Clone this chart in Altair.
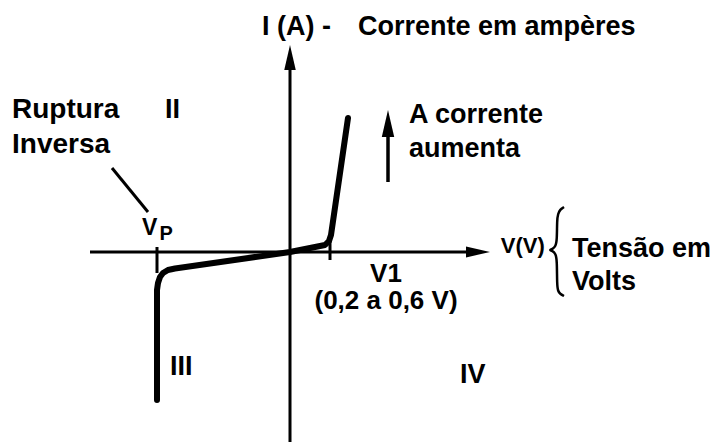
import altair as alt
import pandas as pd

# Diagram units: 1 unit = 40 px on both axes, origin where the V and I axes cross.
X_DOMAIN = [-7.25, 10.675]
Y_DOMAIN = [-4.75, 6.3]

# Diode characteristic curve (V, I), breakdown at Vp, knee at V1
curve_v = [-3.325, -3.325, -3.3, -3.25, -3.175, -3.05, -2.875, 0.0, 0.875, 0.975, 1.025, 1.45]
curve_i = [-3.7, -0.95, -0.775, -0.625, -0.525, -0.45, -0.4125, 0.0, 0.175, 0.275, 0.425, 3.35]

# Straight segments: axes, ticks at Vp and V1, pointer and "current rises" arrow shaft
seg_x1 = [-5.0, 0.0, -3.325, 1.0, -4.45, 2.45]
seg_y1 = [0.0, -4.75, 0.125, 0.3, 2.1, 1.75]
seg_x2 = [4.75, 0.0, -3.325, 1.0, -3.55, 2.45]
seg_y2 = [0.0, 4.85, -0.525, -0.2, 1.0, 3.0]
seg_w = [3, 3, 3, 3, 3, 3.5]

# Curly brace next to the V axis label
brace_u = [6.85, 6.75, 6.7, 6.675, 6.675, 6.64, 6.56, 6.48, 6.56, 6.64, 6.675, 6.675, 6.7, 6.75, 6.85]
brace_v = [1.125, 1.06, 0.95, 0.8, 0.3, 0.14, 0.07, 0.05, 0.03, -0.04, -0.2, -0.825, -0.975, -1.05, -1.1]

# Arrow heads: position and outline
head_x = [4.7, 0.0, 2.45]
head_y = [0.0, 4.8625, 3.2125]
head_shape = [
    "M1,0L-1,-0.45L-1,0.45Z",
    "M0,-1L0.46,1L-0.46,1Z",
    "M0,-1L0.46,1L-0.46,1Z",
]
head_size = [576, 625, 729]

# Text labels
label_text = ["I (A) -", "Corrente em ampères", "Ruptura", "Inversa", "II",
              "A corrente", "aumenta", "V(V)", "Tensão em", "Volts",
              "III", "IV", "V", "P"]
label_x = [-0.7, 1.7, -6.95, -6.95, -3.125, 2.975, 2.975, 5.27, 7.05, 7.05,
           -3.0, 4.25, -3.7, -3.26]
label_y = [5.425, 5.425, 3.35, 2.475, 3.35, 3.225, 2.375, -0.025, -0.125, -0.95,
           -3.075, -3.275, 0.425, 0.3]
label_size = [27, 27, 28, 28, 27, 27, 27, 22, 27, 27, 27, 27, 23, 20]

center_text = ["V1", "(0,2 a 0,6 V)"]
center_x = [2.4, 2.4]
center_y = [-0.74, -1.42]

FONT = "Liberation Sans"

xs = alt.Scale(domain=X_DOMAIN, nice=False, zero=False)
ys = alt.Scale(domain=Y_DOMAIN, nice=False, zero=False)


def X(f):
    return alt.X(f, type="quantitative", scale=xs, axis=None)


def Y(f):
    return alt.Y(f, type="quantitative", scale=ys, axis=None)


segs = pd.DataFrame({"x": seg_x1, "y": seg_y1, "x2": seg_x2, "y2": seg_y2, "w": seg_w})
rules = alt.Chart(segs).mark_rule(color="black").encode(
    x=X("x"), y=Y("y"), x2="x2", y2="y2",
    strokeWidth=alt.StrokeWidth("w:Q", scale=None),
)

curve_df = pd.DataFrame({"v": curve_v, "i": curve_i, "k": range(len(curve_v))})
curve = alt.Chart(curve_df).mark_line(
    color="black", strokeWidth=6, strokeCap="round", strokeJoin="round",
    interpolate="linear"
).encode(x=X("v"), y=Y("i"), order="k:Q")

brace_df = pd.DataFrame({"u": brace_u, "v": brace_v, "k": range(len(brace_u))})
brace = alt.Chart(brace_df).mark_line(
    color="black", strokeWidth=2.5, interpolate="basis"
).encode(x=X("u"), y=Y("v"), order="k:Q")

heads_df = pd.DataFrame({"x": head_x, "y": head_y, "s": head_shape, "z": head_size})
heads = alt.Chart(heads_df).mark_point(
    filled=True, color="black", opacity=1, strokeWidth=0
).encode(
    x=X("x"), y=Y("y"),
    shape=alt.Shape("s:N", scale=None),
    size=alt.Size("z:Q", scale=None),
)

labels_df = pd.DataFrame({"t": label_text, "x": label_x, "y": label_y, "fs": label_size})
labels = alt.Chart(labels_df).mark_text(
    align="left", baseline="alphabetic", font=FONT, fontWeight="bold", color="black"
).encode(
    x=X("x"), y=Y("y"), text="t:N",
    size=alt.Size("fs:Q", scale=None),
)

centered_df = pd.DataFrame({"t": center_text, "x": center_x, "y": center_y})
centered = alt.Chart(centered_df).mark_text(
    align="center", baseline="alphabetic", font=FONT, fontWeight="bold",
    color="black", fontSize=26
).encode(x=X("x"), y=Y("y"), text="t:N")

chart = alt.layer(rules, curve, brace, heads, labels, centered).properties(
    width=717, height=442, padding=0, autosize=alt.AutoSizeParams(type="none"),
    background="white",
).configure_view(stroke=None)

chart.save("out.html", embed_options={"renderer": "svg", "actions": False})
